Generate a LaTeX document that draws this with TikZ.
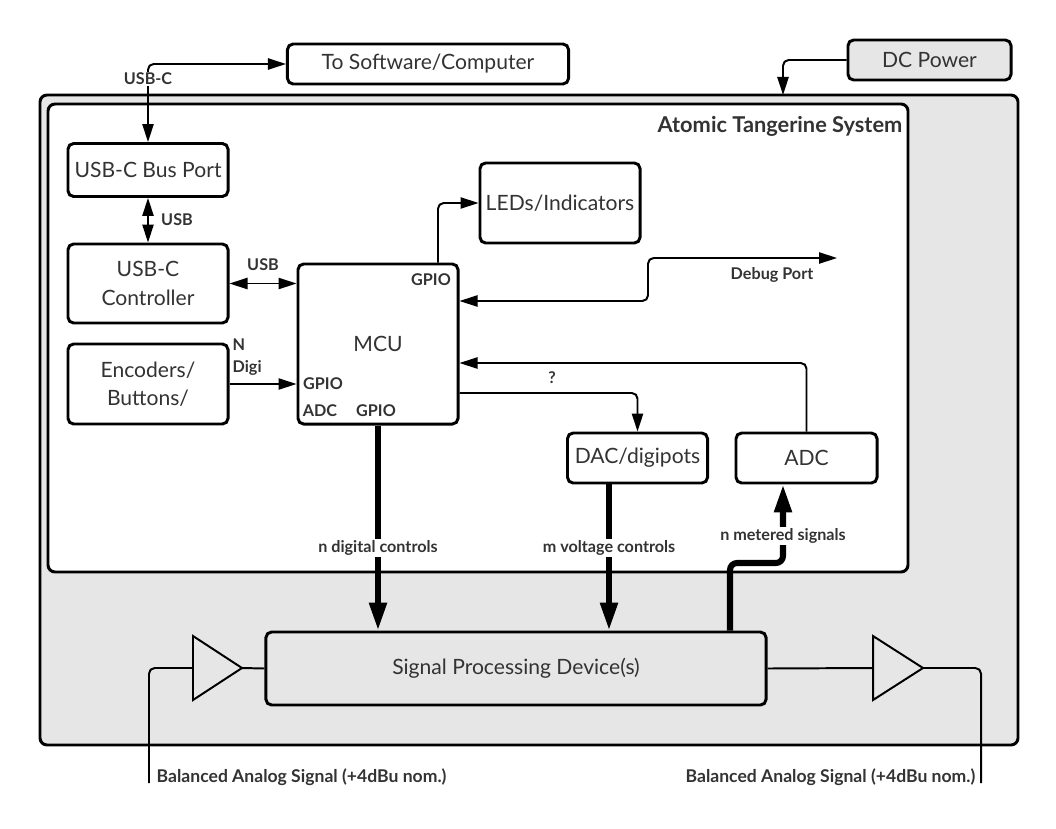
\documentclass[tikz,border=0pt]{standalone}
\usepackage{fontspec}
\setmainfont{Lato}
\usetikzlibrary{arrows.meta}
\definecolor{txtgrey}{HTML}{333333}
\definecolor{boxgrey}{HTML}{E6E6E6}
\tikzset{
    blk/.style={draw, line width=2.1pt, rounded corners=4pt, fill=white, align=center,
        text=txtgrey, font=\fontsize{15}{20}\selectfont, inner sep=0pt},
    lbl/.style={font=\bfseries\fontsize{11.5}{15.5}\selectfont, text=txtgrey, inner sep=1pt, align=left},
    sig/.style={line width=1.4pt, rounded corners=4pt},
    tip/.style={-{Triangle[length=0.45cm,width=0.28cm]}},
    twotip/.style={{Triangle[length=0.45cm,width=0.28cm]}-{Triangle[length=0.45cm,width=0.28cm]}},
    bus/.style={line width=4.3pt, rounded corners=5pt, -{Triangle[length=0.7cm,width=0.42cm]}},
}
\begin{document}
\begin{tikzpicture}[x=0.025cm, y=-0.025cm]
        \useasboundingbox (0,0) rectangle (1056,828);
        %% Enclosure
        \draw[line width=2.1pt, rounded corners=5pt, fill=boxgrey] (40,95) rectangle (1018,745);
        \draw[line width=2.1pt, rounded corners=5pt, fill=white] (48,104) rectangle (908,572);
        \node[lbl, anchor=east, font=\bfseries\fontsize{15.5}{18}\selectfont] (sysname) at (904,126) {Atomic Tangerine System};
        %% Outside
        \node[blk, minimum width=7.025cm, minimum height=1cm] (soft) at (428,64) {To Software/Computer};
        \node[blk, fill=boxgrey, minimum width=4.075cm, minimum height=1cm] (dcpow) at (929.5,60) {DC Power};
        \coordinate (pwrin) at (783,95);
        %% Blocks
        \node[blk, minimum width=4cm, minimum height=1.325cm] (busport) at (148,170) {USB-C Bus Port};
        \node[blk, minimum width=4cm, minimum height=1.975cm] (usbctl) at (148,283.5) {USB-C\\Controller};
        \node[blk, minimum width=4cm, minimum height=2cm] (enc) at (148,384) {Encoders/\\Buttons/};
        \node[blk, minimum width=4cm, minimum height=4cm] (mcu) at (378,344) {MCU};
        \node[blk, minimum width=4cm, minimum height=2cm] (leds) at (560,203) {LEDs/Indicators};
        \node[blk, minimum width=3.5cm, minimum height=1.25cm] (dac) at (637.5,458) {DAC/digipots};
        \node[blk, minimum width=3.525cm, minimum height=1.25cm] (adc) at (806.5,458) {ADC};
        \node[blk, fill=boxgrey, minimum width=12.5cm, minimum height=1.825cm] (spd) at (516,668.5) {Signal Processing Device(s)};
        %% MCU pins
        \node[lbl] (pinled) at (431,280) {GPIO};
        \node[lbl] (pinenc) at (323,384) {GPIO};
        \node[lbl] (pinadc) at (320,411) {ADC};
        \node[lbl] (pinbus) at (376,411) {GPIO};
        %% Buffers
        \draw[sig, rounded corners=0pt, fill=boxgrey] (193,636) -- (242,668) -- (193,700) -- cycle;
        \draw[sig, rounded corners=0pt, fill=boxgrey] (873,636) -- (923,668) -- (873,700) -- cycle;
        \coordinate (bufinL) at (193,668);
        \coordinate (bufinR) at (242,668);
        \coordinate (bufoutL) at (873,668);
        \coordinate (bufoutR) at (923,668);
        \coordinate (ainend) at (149,783);
        \coordinate (aoutend) at (981,783);
        %% Connections
        \draw[sig, twotip] (busport.north) |- (soft.west);
        \node[lbl, fill=white] (usbclbl) at (148,79) {USB-C};
        \draw[sig, tip] (dcpow.west) -| (pwrin);
        \draw[sig, twotip] (busport.south) -- (usbctl.north);
        \node[lbl] (usblbl1) at (177,220) {USB};
        \draw[sig, twotip] (usbctl.east) -- (usbctl.east -| mcu.west);
        \node[lbl] (usblbl2) at (263,265) {USB};
        \draw[sig, tip] (enc.east) -- (enc.east -| mcu.west);
        \node[lbl, anchor=north west] (digilbl) at (231,337) {N\\Digi};
        \draw[sig, tip] (mcu.north -| 438,0) |- (leds.west);
        \coordinate (dbgport) at (837,258);
        \draw[sig, twotip] (mcu.east |- 0,301) -| (648,258) -- (dbgport);
        \node[lbl] (dbglbl) at (772,275) {Debug Port};
        \draw[sig, tip] (adc.north) |- (mcu.east |- 0,363);
        \draw[sig, tip] (mcu.east |- 0,393) -| (dac.north);
        \node[lbl] (qlbl) at (552,378) {?};
        %% Control buses
        \draw[bus] (mcu.south) -- (mcu.south |- spd.north);
        \node[lbl, fill=white] (diglbl) at (378,548) {n digital controls};
        \draw[bus] (dac.south -| 609,0) -- (spd.north -| 609,0);
        \node[lbl, fill=white] (voltlbl) at (609,548) {m voltage controls};
        \draw[bus] (spd.north -| 730,0) -- (730,563) -- (783,563) -- (adc.south -| 783,0);
        \node[lbl, fill=white] (meterlbl) at (783,536) {n metered signals};
        %% Analog path
        \draw[sig] (bufinR) -- (spd.west);
        \draw[sig] (spd.east) -- (bufoutL);
        \draw[sig] (bufinL) -| (ainend);
        \draw[sig] (bufoutR) -| (aoutend);
        \node[lbl, anchor=west, font=\bfseries\fontsize{12.5}{14}\selectfont] (ainlbl) at (155,777) {Balanced Analog Signal (+4dBu nom.)};
        \node[lbl, anchor=east, font=\bfseries\fontsize{12.5}{14}\selectfont] (aoutlbl) at (977,777) {Balanced Analog Signal (+4dBu nom.)};
\end{tikzpicture}
\end{document}
